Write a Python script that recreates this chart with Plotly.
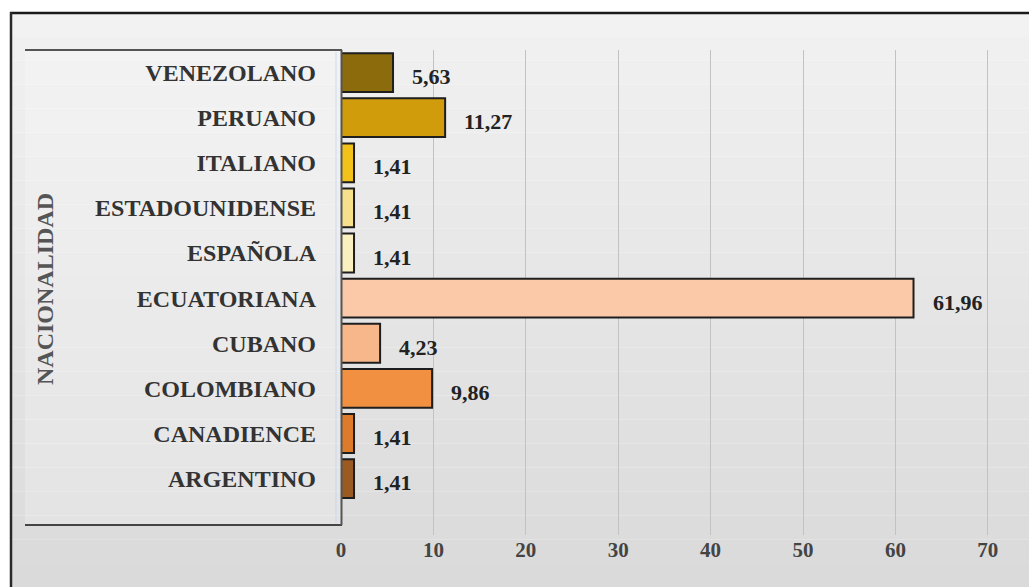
import plotly.graph_objects as go

# Nationalities, bottom to top as drawn on the chart
nacionalidades = ["ARGENTINO", "CANADIENCE", "COLOMBIANO", "CUBANO", "ECUATORIANA",
                  "ESPAÑOLA", "ESTADOUNIDENSE", "ITALIANO", "PERUANO", "VENEZOLANO"]
porcentajes = [1.41, 1.41, 9.86, 4.23, 61.96, 1.41, 1.41, 1.41, 11.27, 5.63]
etiquetas = ["1,41", "1,41", "9,86", "4,23", "61,96", "1,41", "1,41", "1,41", "11,27", "5,63"]
colores = ["#9b5a22", "#dc7c2a", "#f09040", "#f8b78a", "#fbc9a8",
           "#f9efbf", "#f6e08c", "#f2c21a", "#d09c0c", "#8c6b0c"]
ticks_x = [0, 10, 20, 30, 40, 50, 60, 70]

W, H = 1029, 587
L, R, T, B = 341, 0, 50, 52
pw, ph = W - L - R, H - T - B

def px_x(p):
    return (p - L) / pw

def px_y(p):
    return (H - B - p) / ph

SERIF = "Liberation Serif, Times New Roman, serif"
pos = list(range(len(nacionalidades)))

fig = go.Figure()
fig.add_trace(go.Bar(
    x=porcentajes, y=pos, orientation="h", width=0.86,
    marker=dict(color=colores, line=dict(color="#1e1e1e", width=2)),
    hoverinfo="skip",
))

# value labels beside each bar
for v, p, t in zip(porcentajes, pos, etiquetas):
    fig.add_annotation(x=v, y=p, text=t, showarrow=False, xanchor="left",
                       xshift=17, yshift=-4,
                       font=dict(family=SERIF, size=22, color="#222222", weight="bold"))

shapes = []
# soft vertical gradient for the chart background
n = 24
top, bot = 13, H
for i in range(n):
    y0 = top + (bot - top) * i / n
    y1 = top + (bot - top) * (i + 1) / n
    c = int(242 - (242 - 218) * i / (n - 1))
    shapes.append(dict(type="rect", xref="paper", yref="paper",
                       x0=px_x(11), x1=px_x(W), y0=px_y(y1), y1=px_y(y0),
                       fillcolor=f"rgb({c},{c},{c})", line=dict(width=0), layer="below"))
# lighter panel behind category labels
shapes.append(dict(type="rect", xref="paper", yref="paper",
                   x0=px_x(25), x1=px_x(341), y0=px_y(525), y1=px_y(50),
                   fillcolor="rgba(255,255,255,0.22)", line=dict(width=0), layer="below"))
# outer frame (top and left edges)
shapes.append(dict(type="line", xref="paper", yref="paper",
                   x0=px_x(10), x1=px_x(W), y0=px_y(13), y1=px_y(13),
                   line=dict(color="#1a1a1a", width=2.5)))
shapes.append(dict(type="line", xref="paper", yref="paper",
                   x0=px_x(11), x1=px_x(11), y0=px_y(12), y1=px_y(H),
                   line=dict(color="#2a2a2a", width=2.5)))
# label panel borders
shapes.append(dict(type="line", xref="paper", yref="paper",
                   x0=px_x(25), x1=px_x(342), y0=px_y(50), y1=px_y(50),
                   line=dict(color="#555555", width=2)))
shapes.append(dict(type="line", xref="paper", yref="paper",
                   x0=px_x(25), x1=px_x(342), y0=px_y(525), y1=px_y(525),
                   line=dict(color="#444444", width=2)))
shapes.append(dict(type="line", xref="paper", yref="paper",
                   x0=px_x(341.5), x1=px_x(341.5), y0=px_y(50), y1=px_y(525),
                   line=dict(color="#555555", width=2)))
shapes.append(dict(type="line", xref="paper", yref="paper",
                   x0=px_x(336), x1=px_x(336), y0=px_y(52), y1=px_y(523),
                   line=dict(color="rgba(190,210,235,0.7)", width=1)))

fig.add_annotation(xref="paper", yref="paper", x=px_x(45), y=px_y(289),
                   xanchor="center", yanchor="middle",
                   text="NACIONALIDAD", textangle=-90, showarrow=False,
                   font=dict(family=SERIF, size=24, color="#555555", weight="bold"))

fig.update_layout(
    width=W, height=H,
    margin=dict(l=L, r=R, t=T, b=B, pad=0),
    paper_bgcolor="white",
    plot_bgcolor="rgba(0,0,0,0)",
    showlegend=False,
    shapes=shapes,
    bargap=0.14,
    xaxis=dict(range=[0, (W - L) / 92.4 * 10], tickvals=ticks_x,
               showgrid=True, gridcolor="#c2c2c2", gridwidth=1,
               zeroline=False, showline=False, ticks="",
               tickfont=dict(family=SERIF, size=21, color="#444444", weight="bold")),
    yaxis=dict(range=[-1.25, 9.5], tickvals=pos, ticktext=nacionalidades,
               showgrid=False, zeroline=False, showline=False, ticks="",
               ticklabelstandoff=24,
               tickfont=dict(family=SERIF, size=24, color="#333333", weight="bold")),
)

fig.write_html("out.html")
